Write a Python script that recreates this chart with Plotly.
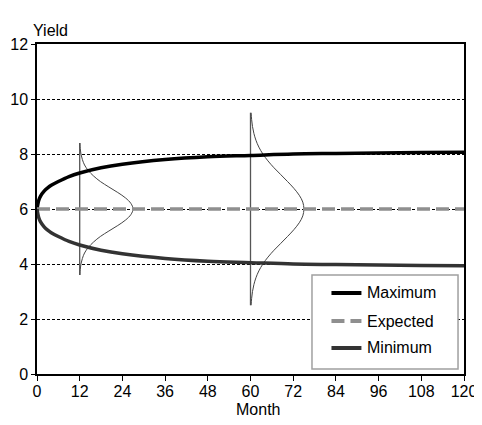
import plotly.graph_objects as go

# ---- data ----
months = [0, 0.5, 1, 2, 3, 4, 6, 9, 12, 18, 24, 36, 48, 60, 72, 84, 96, 108, 120]
maximum = [6.0, 6.32, 6.47, 6.65, 6.77, 6.86, 7.0, 7.18, 7.31, 7.5, 7.63, 7.8, 7.9, 7.95, 8.0, 8.02, 8.04, 8.05, 8.06]
minimum = [6.0, 5.68, 5.53, 5.35, 5.23, 5.14, 5.0, 4.82, 4.69, 4.5, 4.37, 4.2, 4.1, 4.05, 4.0, 3.98, 3.96, 3.95, 3.94]
expected = [6.0] * len(months)

# distribution at month 12: yield levels and horizontal width (months)
dist12_month = 12
dist12_yield = [3.6, 3.8, 4.0, 4.2, 4.4, 4.6, 4.8, 5.0, 5.2, 5.4, 5.6, 5.8, 6.0,
                6.2, 6.4, 6.6, 6.8, 7.0, 7.2, 7.4, 7.6, 7.8, 8.0, 8.2, 8.4]
dist12_width = [0.07, 0.15, 0.35, 0.75, 1.36, 2.4, 3.9, 5.8, 8.2, 10.7, 12.9, 14.4, 15.0,
                14.4, 12.9, 10.7, 8.2, 5.8, 3.9, 2.4, 1.36, 0.75, 0.35, 0.15, 0.07]

# distribution at month 60
dist60_month = 60
dist60_yield = [2.5, 2.75, 3.0, 3.25, 3.5, 3.75, 4.0, 4.25, 4.5, 4.75, 5.0, 5.25, 5.5, 5.75, 6.0,
                6.25, 6.5, 6.75, 7.0, 7.25, 7.5, 7.75, 8.0, 8.25, 8.5, 8.75, 9.0, 9.25, 9.5]
dist60_width = [0.17, 0.32, 0.56, 0.95, 1.53, 2.35, 3.48, 4.9, 6.6, 8.5, 10.4, 12.2, 13.7, 14.7, 15.0,
                14.7, 13.7, 12.2, 10.4, 8.5, 6.6, 4.9, 3.48, 2.35, 1.53, 0.95, 0.56, 0.32, 0.17]

series_names = ["Maximum", "Expected", "Minimum"]

x_ticks = list(range(0, 121, 12))
y_ticks = list(range(0, 13, 2))

FONT = "Liberation Sans, Arial, Helvetica, sans-serif"

styles = {
    "Maximum": dict(color="#000000", width=3.5),
    "Expected": dict(color="#8f8f8f", width=3.5, dash="13px,6px"),
    "Minimum": dict(color="#333333", width=3.5),
}

fig = go.Figure()

# distributions (vertical baselines + density curves)
for m, ys, ws in [(dist12_month, dist12_yield, dist12_width),
                  (dist60_month, dist60_yield, dist60_width)]:
    fig.add_trace(go.Scatter(x=[m, m], y=[ys[0], ys[-1]], mode="lines",
                             line=dict(color="#555555", width=1.3),
                             showlegend=False, hoverinfo="skip"))
    fig.add_trace(go.Scatter(x=[m + w for w in ws], y=ys, mode="lines",
                             line=dict(color="#444444", width=1, shape="spline"),
                             showlegend=False, hoverinfo="skip"))

for name, vals in zip(series_names, [maximum, expected, minimum]):
    ln = dict(styles[name])
    if name != "Expected":
        ln["shape"] = "spline"
    fig.add_trace(go.Scatter(x=months, y=vals, mode="lines", name=name,
                             line=ln, showlegend=False))

# legend box drawn in paper coordinates (bottom-right of the plot)
shapes = [dict(type="rect", xref="paper", yref="paper", x0=0.644, x1=0.986,
               y0=0.015, y1=0.300, fillcolor="white",
               line=dict(color="#a0a0a0", width=1.5), layer="above")]
annotations = []
row_y = [0.2455, 0.1606, 0.0788]
for name, yy in zip(series_names, row_y):
    st = styles[name]
    shapes.append(dict(type="line", xref="paper", yref="paper", x0=0.6896, x1=0.7598,
                       y0=yy, y1=yy, layer="above",
                       line=dict(color=st["color"], width=4, dash=st.get("dash", "solid"))))
    annotations.append(dict(text=name, xref="paper", yref="paper", x=0.7685, y=yy,
                            xanchor="left", yanchor="middle", showarrow=False,
                            font=dict(size=16)))

annotations.append(dict(text="Yield", xref="paper", yref="paper", x=0, y=1,
                        xanchor="left", yanchor="bottom", showarrow=False,
                        xshift=-6, yshift=3, font=dict(size=16)))
annotations.append(dict(text="Month", xref="paper", yref="paper", x=0.518, y=0,
                        xanchor="center", yanchor="top", showarrow=False,
                        yshift=-25, font=dict(size=16)))

# page body adds an 8px offset; figure sized so the plot lands where the reference has it
fig.update_layout(
    width=474, height=417,
    margin=dict(l=29, r=18, t=36, b=51),
    paper_bgcolor="white", plot_bgcolor="white",
    font=dict(family=FONT, size=16, color="black"),
    showlegend=False,
    xaxis=dict(range=[0, 120], tickvals=x_ticks, ticks="outside", ticklen=5,
               tickcolor="black", showline=True, linecolor="black", linewidth=1.5,
               mirror=True, showgrid=False, zeroline=False, automargin=False,
               ticklabeloverflow="allow", ticklabelstandoff=-3),
    yaxis=dict(range=[0, 12], tickvals=y_ticks, ticks="outside", ticklen=4,
               tickcolor="black", showline=True, linecolor="black", linewidth=1.5,
               mirror=True, showgrid=True, gridcolor="black", gridwidth=1,
               griddash="3px,2px", zeroline=False, automargin=False,
               ticklabeloverflow="allow"),
    shapes=shapes,
    annotations=annotations,
)

fig.write_html("out.html")
